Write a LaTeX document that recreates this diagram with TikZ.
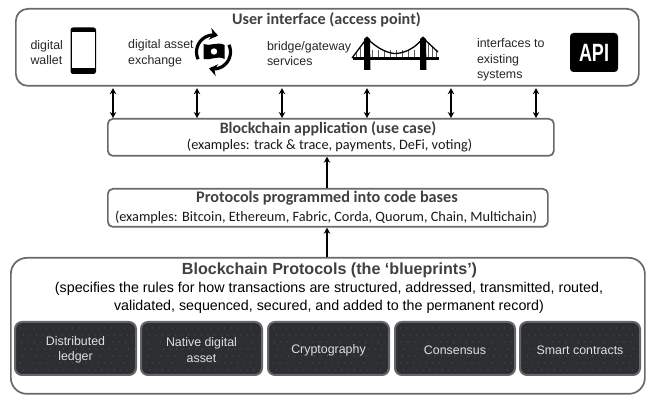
\documentclass[tikz,border=0pt]{standalone}
\usepackage{fontspec}
\usepackage{graphicx}
\setmainfont{Liberation Sans}
\newfontfamily\cali{Carlito}
\usetikzlibrary{arrows.meta}
\definecolor{boxline}{RGB}{105,105,105}
\definecolor{darkfill}{RGB}{44,46,50}
\definecolor{darkline}{RGB}{100,102,104}
\definecolor{titlegray}{RGB}{64,64,64}
\tikzset{
  panel/.style={draw=boxline,line width=1.7pt,fill=white,rounded corners=#1,inner sep=0pt},
  panel/.default=5pt,
  tile/.style={draw=darkline,line width=2pt,fill=darkfill,rounded corners=7pt,inner sep=0pt},
  tiletext/.style={text=white!88!black,font=\fontsize{12.4}{15.5}\selectfont,align=center},
  label/.style={font=\fontsize{12.4}{15.5}\selectfont,align=left,anchor=west,text=black!85},
  flow/.style={line width=1.4pt,{Stealth[length=6pt,width=6.5pt]}-{Stealth[length=6pt,width=6.5pt]}},
  upflow/.style={line width=1.4pt,-{Stealth[length=6pt,width=6.5pt]}},
  calhead/.style={font=\cali\bfseries\fontsize{15.9}{17}\selectfont,text=titlegray},
  calsub/.style={font=\cali\fontsize{14.3}{16}\selectfont,text=black!90},
  turn/.style={line width=3.2pt,-{Stealth[length=8pt,width=12pt]}}
}
\begin{document}
\begin{tikzpicture}[x=1pt,y=-1pt]
\useasboundingbox (0,0) rectangle (654,403);
% panels
\node[panel=12pt,minimum width=623pt,minimum height=77pt,anchor=north west] (ui) at (15,8) {};
\node[panel=5pt,minimum width=446pt,minimum height=37pt,anchor=north west] (app) at (107,118) {};
\node[panel=5pt,minimum width=440pt,minimum height=38pt,anchor=north west] (proto) at (107,188) {};
\node[panel=16pt,minimum width=634pt,minimum height=136pt,anchor=north west] (base) at (10,257) {};
% UI texts
\node[calhead,font=\cali\bfseries\fontsize{16.1}{17}\selectfont] (uit) at (326.5,20) {User interface (access point)};
\node[label] (l1) at (27,52.5) {digital\\wallet};
\node[label] (l2) at (124.7,53.5) {digital asset\\exchange};
\node[label] (l3) at (263.5,53.5) {bridge/gateway\\services};
\node[label] (l4) at (473.5,60) {interfaces to\\existing\\systems};
% phone
\fill[black,rounded corners=2.5pt] (70.5,27.5) rectangle (96,74);
\fill[white] (72,32) rectangle (94.5,68.5);
% exchange icon
\begin{scope}[shift={(213.5,52)}]
  \draw[turn] plot[smooth,domain=155:285,samples=16] ({17*cos(\x)},{17*sin(\x)});
  \draw[turn] plot[smooth,domain=-25:105,samples=16] ({17*cos(\x)},{17*sin(\x)});
  \fill[black] (-10,-8) .. controls (-4,-5) and (4,-11) .. (11,-7) -- (11,7) .. controls (4,3) and (-4,9) .. (-10,7) -- cycle;
  \fill[white] (0.5,-0.5) circle[radius=3.2pt];
\end{scope}
% bridge
\draw[line width=0.6pt,black!65] \foreach \x in {356,360,364} {(\x,58) -- (\x,{58-(\x-352)*1.3})};
\draw[line width=0.6pt,black!65] \foreach \x in {372,378,...,420} {(\x,58) -- (\x,50)};
\draw[line width=0.6pt,black!65] \foreach \x in {428,432,436} {(\x,58) -- (\x,{38+(\x-423)*0.95})};
\draw[line width=1.3pt] (352,58) -- (367,38) .. controls (378,50) and (390,53.5) .. (395,53.5) .. controls (402,53.5) and (414,50) .. (423,38) -- (438,52);
\fill[black] (364,39) -- (367,36.5) -- (370,39) -- (370.5,70) -- (364,70) -- cycle;
\fill[black] (420,39) -- (423,36.5) -- (426,39) -- (426.5,70) -- (420,70) -- cycle;
\fill[black] (352.5,57) rectangle (438.5,60);
% API
\node[fill=black,text=white,rounded corners=3.5pt,minimum width=48pt,minimum height=39pt,inner sep=0pt,font=\bfseries\fontsize{25}{25}\selectfont] (api) at (594,52.5) {\scalebox{0.72}[1]{API}};
% connectors
\foreach \n/\x in {a/113,b/197,c/282,d/367,e/451,f/536}{
  \coordinate (\n) at (\x,100);
  \draw[flow] ([yshift=-1.5pt]ui.south -| \n) -- (app.north -| \n);
}
\coordinate (mid) at (327,170);
\draw[upflow] (proto.north -| mid) -- (app.south -| mid);
\draw[upflow] (base.north -| mid) -- (proto.south -| mid);
% app / proto text
\node[calhead] (appt) at (328,128.5) {Blockchain application (use case)};
\node[calsub] (apps) at (329.5,146) {(examples: track \& trace, payments, DeFi, voting)};
\node[calhead,font=\cali\bfseries\fontsize{16.2}{17}\selectfont] (prot) at (327,198.5) {Protocols programmed into code bases};
\node[calsub] (pros) at (326,217) {(examples: Bitcoin, Ethereum, Fabric, Corda, Quorum, Chain, Multichain)};
% base texts
\node[font=\bfseries\fontsize{16.1}{18}\selectfont,text=titlegray] (bt) at (329.5,270) {Blockchain Protocols (the ‘blueprints’)};
\node[font=\fontsize{14.27}{18}\selectfont,align=center] (bs) at (329,297.5) {(specifies the rules for how transactions are structured, addressed, transmitted, routed,\\validated, sequenced, secured, and added to the permanent record)};
% tiles
\foreach \n/\l/\r/\t in {t1/15/136/{Distributed\\ledger},t2/141/262/{Native digital\\asset},t3/268/389/{Cryptography},t4/395/515/{Consensus},t5/520/640/{Smart contracts}}{
  \pgfmathsetmacro{\w}{\r-\l}
  \pgfmathsetmacro{\c}{(\r+\l)/2}
  \node[tile,minimum width=\w pt,minimum height=53pt] (\n) at (\c,348.5) {};
  \foreach \i in {1,...,18}{\foreach \j in {0,...,6}{
    \pgfmathsetmacro{\dx}{\l+6.5*\i-1+mod(\j*3,5)}
    \pgfmathsetmacro{\dy}{328+7*\j}
    \fill[white!55!black] (\dx,\dy) circle[radius=0.3pt];
  }}
  \node[tiletext,yshift=-1.5pt] at (\n) {\t};
}
\end{tikzpicture}
\end{document}
